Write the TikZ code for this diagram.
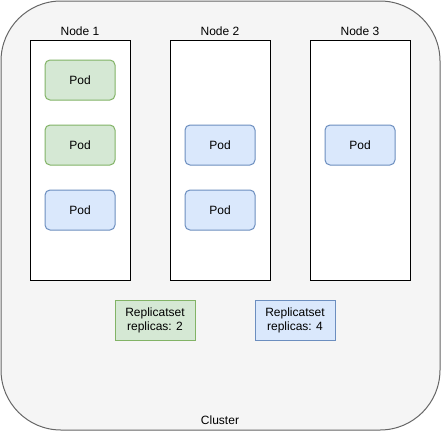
\documentclass[tikz,border=0pt]{standalone}
\usepackage{fontspec}
\setmainfont{Liberation Sans}
\usepackage{tikz}
\usetikzlibrary{positioning}

\definecolor{clusterfill}{HTML}{F5F5F5}
\definecolor{clusterline}{HTML}{666666}
\definecolor{greenfill}{HTML}{D5E8D4}
\definecolor{greenline}{HTML}{82B366}
\definecolor{bluefill}{HTML}{DAE8FC}
\definecolor{blueline}{HTML}{6C8EBF}

\tikzset{
  hostbox/.style={draw=black, fill=white, line width=1pt, minimum width=100pt, minimum height=240pt, inner sep=0pt},
  greenpod/.style={draw=greenline, fill=greenfill, line width=1pt, rounded corners=5pt, minimum width=70pt, minimum height=40pt, inner sep=0pt},
  bluepod/.style={draw=blueline, fill=bluefill, line width=1pt, rounded corners=5pt, minimum width=70pt, minimum height=40pt, inner sep=0pt},
  greenrs/.style={draw=greenline, fill=greenfill, line width=1pt, minimum width=80pt, minimum height=40pt, inner sep=0pt, align=center},
  bluers/.style={draw=blueline, fill=bluefill, line width=1pt, minimum width=80pt, minimum height=40pt, inner sep=0pt, align=center}
}

\begin{document}
\begin{tikzpicture}[x=1pt, y=-1pt, font=\fontsize{12}{14}\selectfont]
	\useasboundingbox (0,0) rectangle (441,431);
	%Cluster
	\draw[draw=clusterline, fill=clusterfill, line width=1pt, rounded corners=60pt] (1,1) rectangle (440,430);
	\node (cluster) at (220,420) {Cluster};
	%Nodes
	\node[hostbox] (N1) at (80,160) {};
	\node[hostbox] (N2) at (220,160) {};
	\node[hostbox] (N3) at (360,160) {};
	\node (L1) at (80,31) {Node 1};
	\node (L2) at (220,31) {Node 2};
	\node (L3) at (360,31) {Node 3};
	%Pods
	\node[greenpod] (P11) at (80,80) {Pod};
	\node[greenpod] (P12) at (80,145) {Pod};
	\node[bluepod] (P13) at (80,210) {Pod};
	\node[bluepod] (P21) at (220,145) {Pod};
	\node[bluepod] (P22) at (220,210) {Pod};
	\node[bluepod] (P31) at (360,145) {Pod};
	%Replicasets
	\node[greenrs] (RS1) at (155,320) {Replicatset\\replicas: 2};
	\node[bluers] (RS2) at (295,320) {Replicatset\\replicas: 4};
\end{tikzpicture}
\end{document}
